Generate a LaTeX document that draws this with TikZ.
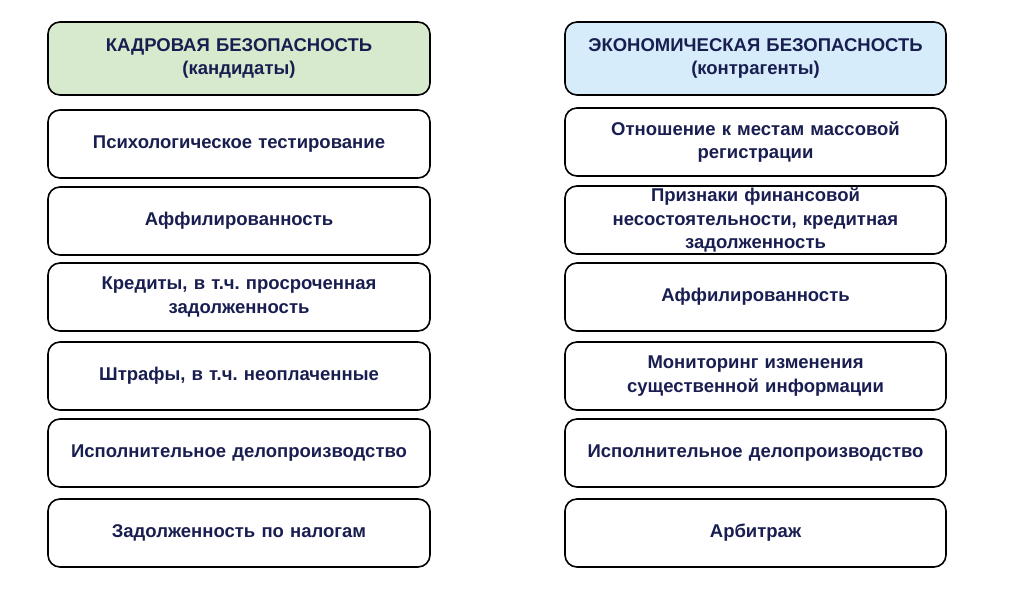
\documentclass[tikz,border=0pt]{standalone}
\usepackage{fontspec}
\setmainfont{Liberation Sans}
\definecolor{navy}{RGB}{25,30,80}
\definecolor{headgreen}{RGB}{216,234,206}
\definecolor{headblue}{RGB}{214,236,250}
\begin{document}
\frenchspacing
\begin{tikzpicture}[x = 1pt, y = -1pt]
\tikzstyle{BoxStyle}=[draw, line width = 1.6pt, rounded corners = 12pt,
                      text = navy, font = \bfseries\fontsize{18.5}{23.5}\selectfont,
                      align = center, text width = 370pt, inner sep = 0pt]
\useasboundingbox (0,0) rectangle (1030,595);
\node[BoxStyle, fill = headgreen, minimum width = 382pt, minimum height = 73pt] (k0) at (239,58.5) {КАДРОВАЯ БЕЗОПАСНОСТЬ\\(кандидаты)};
\node[BoxStyle, minimum width = 382pt, minimum height = 68pt] (k1) at (239,144) {Психологическое тестирование};
\node[BoxStyle, minimum width = 382pt, minimum height = 68pt] (k2) at (239,221) {Аффилированность};
\node[BoxStyle, minimum width = 382pt, minimum height = 68pt] (k3) at (239,297) {Кредиты, в т.ч. просроченная\\задолженность};
\node[BoxStyle, minimum width = 382pt, minimum height = 68pt] (k4) at (239,376) {Штрафы, в т.ч. неоплаченные};
\node[BoxStyle, minimum width = 382pt, minimum height = 68pt] (k5) at (239,453) {Исполнительное делопроизводство};
\node[BoxStyle, minimum width = 382pt, minimum height = 68pt] (k6) at (239,533) {Задолженность по налогам};
\node[BoxStyle, fill = headblue, minimum width = 381pt, minimum height = 73pt] (e0) at (755.5,58.5) {ЭКОНОМИЧЕСКАЯ БЕЗОПАСНОСТЬ\\(контрагенты)};
\node[BoxStyle, minimum width = 381pt, minimum height = 68pt] (e1) at (755.5,142) {Отношение к местам массовой\\регистрации};
\node[BoxStyle, minimum width = 381pt, minimum height = 68pt] (e2) at (755.5,220) {Признаки финансовой\\несостоятельности, кредитная\\задолженность};
\node[BoxStyle, minimum width = 381pt, minimum height = 68pt] (e3) at (755.5,297) {Аффилированность};
\node[BoxStyle, minimum width = 381pt, minimum height = 68pt] (e4) at (755.5,376) {Мониторинг изменения\\существенной информации};
\node[BoxStyle, minimum width = 381pt, minimum height = 68pt] (e5) at (755.5,453) {Исполнительное делопроизводство};
\node[BoxStyle, minimum width = 381pt, minimum height = 68pt] (e6) at (755.5,533) {Арбитраж};
\end{tikzpicture}
\end{document}
